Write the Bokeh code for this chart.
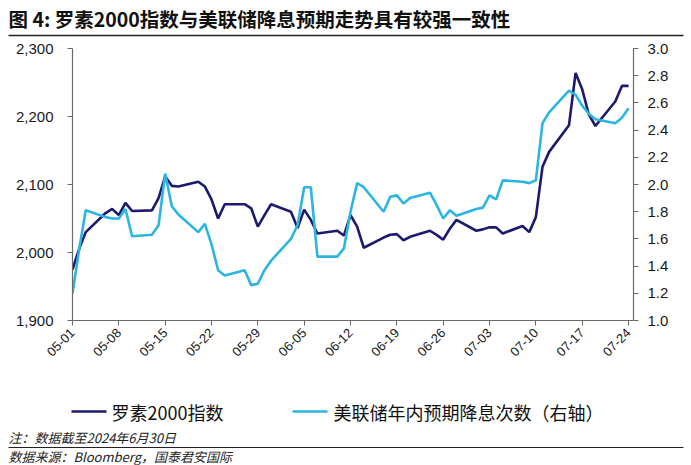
import math
import datetime as dt
from bokeh.plotting import figure
from bokeh.layouts import column
from bokeh.models import (LinearAxis, Range1d, FixedTicker, DatetimeTickFormatter,
                          NumeralTickFormatter, ColumnDataSource)
from bokeh.core.properties import value
from bokeh.embed import file_html
from bokeh.resources import INLINE

# ---------------- data ----------------
dates = [
    "2024-05-01", "2024-05-02", "2024-05-03", "2024-05-06", "2024-05-07", "2024-05-08",
    "2024-05-09", "2024-05-10", "2024-05-13", "2024-05-14", "2024-05-15", "2024-05-16",
    "2024-05-17", "2024-05-20", "2024-05-21", "2024-05-22", "2024-05-23", "2024-05-24",
    "2024-05-27", "2024-05-28", "2024-05-29", "2024-05-30", "2024-05-31",
    "2024-06-03", "2024-06-04", "2024-06-05", "2024-06-06", "2024-06-07", "2024-06-10",
    "2024-06-11", "2024-06-12", "2024-06-13", "2024-06-14", "2024-06-17", "2024-06-18",
    "2024-06-19", "2024-06-20", "2024-06-21", "2024-06-24", "2024-06-25", "2024-06-26",
    "2024-06-27", "2024-06-28",
    "2024-07-01", "2024-07-02", "2024-07-03", "2024-07-04", "2024-07-05", "2024-07-08",
    "2024-07-09", "2024-07-10", "2024-07-11", "2024-07-12", "2024-07-15", "2024-07-16",
    "2024-07-17", "2024-07-18", "2024-07-19", "2024-07-22", "2024-07-23", "2024-07-24",
]

russell2000 = [
    1975, 2005, 2030, 2058, 2064, 2055, 2073, 2061, 2062, 2080, 2112, 2098,
    2097, 2104, 2097, 2078, 2050, 2071, 2071, 2065, 2038, 2055, 2071,
    2060, 2036, 2063, 2048, 2028, 2032, 2025, 2055, 2038, 2007, 2022, 2026,
    2027, 2018, 2023, 2032, 2026, 2019, 2035, 2048,
    2032, 2034, 2037, 2037, 2028, 2039, 2030, 2052, 2126, 2148, 2187, 2264,
    2240, 2203, 2186, 2222, 2245, 2245,
]

fed_cuts = [
    1.20, 1.52, 1.81, 1.76, 1.75, 1.75, 1.82, 1.62, 1.63, 1.70, 2.08, 1.84,
    1.78, 1.65, 1.71, 1.56, 1.37, 1.33, 1.37, 1.26, 1.27, 1.37, 1.44,
    1.60, 1.70, 1.98, 1.98, 1.47, 1.47, 1.53, 1.80, 2.01, 1.98, 1.80, 1.91,
    1.92, 1.86, 1.90, 1.94, 1.85, 1.75, 1.81, 1.77,
    1.82, 1.83, 1.92, 1.89, 2.03, 2.02, 2.01, 2.03, 2.45, 2.53, 2.69, 2.66,
    2.58, 2.52, 2.48, 2.45, 2.49, 2.56,
]

x_tick_dates = ["2024-05-01", "2024-05-08", "2024-05-15", "2024-05-22", "2024-05-29",
                "2024-06-05", "2024-06-12", "2024-06-19", "2024-06-26", "2024-07-03",
                "2024-07-10", "2024-07-17", "2024-07-24"]

left_ticks = [1900, 2000, 2100, 2200, 2300]
right_ticks = [1.0, 1.2, 1.4, 1.6, 1.8, 2.0, 2.2, 2.4, 2.6, 2.8, 3.0]

title_text = "图 4:  罗素2000指数与美联储降息预期走势具有较强一致性"
series_names = ["罗素2000指数", "美联储年内预期降息次数（右轴）"]
note_text = "注：数据截至2024年6月30日"
source_text = "数据来源：Bloomberg，国泰君安国际"

# ---------------- styling ----------------
W = 691
CJK = "Noto Sans CJK SC"
LAT = "Liberation Sans"
DARK = "#1c1a6e"
CYAN = "#2cb5e3"
AXC = "#6b6b6b"


def to_dt(s):
    return dt.datetime.strptime(s, "%Y-%m-%d")


def to_ms(d):
    return (d - dt.datetime(1970, 1, 1)).total_seconds() * 1000.0


def blank_fig(h, y_top, y_bot):
    f = figure(width=W, height=h, output_backend="svg", toolbar_location=None,
               x_range=Range1d(0, W), y_range=Range1d(y_bot, y_top),
               x_axis_location=None, y_axis_location=None,
               min_border=0, min_border_left=0, min_border_right=0,
               min_border_top=0, min_border_bottom=0, frame_align=False)
    f.outline_line_color = None
    f.xgrid.visible = False
    f.ygrid.visible = False
    return f


# ---------------- header ----------------
HEAD_H = 40
head = blank_fig(HEAD_H, 0, HEAD_H)   # y grows downward (page px)
head.text(x=[8], y=[18], text=[title_text], text_font=value(CJK),
          text_font_style="bold", text_font_size=value("19.5px"),
          text_color="#111111", text_baseline="middle", text_align="left")
head.segment(x0=[8], y0=[35], x1=[683], y1=[35], line_color="#222222", line_width=1.4)

# ---------------- main chart ----------------
MAIN_TOP = HEAD_H
MAIN_H = 352
xs = [to_dt(s) for s in dates]
src = ColumnDataSource(dict(x=xs, r=russell2000, c=fed_cuts))

x_start = to_dt("2024-05-01")
x_end = to_dt("2024-07-24") + dt.timedelta(hours=18)

p = figure(width=W, height=MAIN_H, output_backend="svg", toolbar_location=None,
           x_axis_type="datetime",
           x_range=Range1d(x_start, x_end), y_range=Range1d(1900, 2300),
           min_border_left=72, min_border_right=W - 633,
           min_border_top=48 - MAIN_TOP, min_border_bottom=MAIN_TOP + MAIN_H - 320,
           frame_align=False)
p.extra_y_ranges = {"right": Range1d(1.0, 3.0)}
p.outline_line_color = None
p.xgrid.visible = False
p.ygrid.visible = False

p.line("x", "r", source=src, line_color=DARK, line_width=2.6)
p.line("x", "c", source=src, line_color=CYAN, line_width=2.6, y_range_name="right")

xa = p.xaxis[0]
xa.ticker = FixedTicker(ticks=[to_ms(to_dt(s)) for s in x_tick_dates])
xa.formatter = DatetimeTickFormatter(days="%m-%d", months="%m-%d", hours="%m-%d")
xa.major_label_orientation = math.pi / 4
ya = p.yaxis[0]
ya.ticker = FixedTicker(ticks=left_ticks)
ya.formatter = NumeralTickFormatter(format="0,0")
ra = LinearAxis(y_range_name="right", ticker=FixedTicker(ticks=right_ticks),
                formatter=NumeralTickFormatter(format="0.0"))
p.add_layout(ra, "right")

for ax in (xa, ya, ra):
    ax.axis_line_color = AXC
    ax.axis_line_width = 1.2
    ax.major_tick_line_color = AXC
    ax.major_tick_in = 0
    ax.major_tick_out = 5
    ax.minor_tick_line_color = None
    ax.major_label_text_font = LAT
    ax.major_label_text_color = "#1a1a1a"
xa.major_label_text_font_size = "13px"
ya.major_label_text_font_size = "15px"
ra.major_label_text_font_size = "15px"
ya.major_label_standoff = 14
ra.major_label_standoff = 9
xa.major_label_standoff = 5

# ---------------- footer (legend + notes) ----------------
FOOT_TOP = MAIN_TOP + MAIN_H
FOOT_H = 465 - FOOT_TOP
foot = blank_fig(FOOT_H, FOOT_TOP, 465)
LEG_Y = 411
foot.segment(x0=[71], y0=[LEG_Y], x1=[106], y1=[LEG_Y], line_color=DARK, line_width=2.6)
foot.segment(x0=[292], y0=[LEG_Y], x1=[327], y1=[LEG_Y], line_color=CYAN, line_width=2.6)
foot.text(x=[111, 333], y=[LEG_Y, LEG_Y], text=series_names, text_font=value(CJK),
          text_font_size=value("18px"), text_color="#111111",
          text_baseline="middle", text_align="left")
foot.text(x=[8], y=[437], text=[note_text], text_font=value(CJK),
          text_font_style="italic", text_font_size=value("13px"),
          text_color="#222222", text_baseline="middle", text_align="left")
foot.segment(x0=[8], y0=[447], x1=[683], y1=[447], line_color="#222222", line_width=1.0)
foot.text(x=[8], y=[456], text=[source_text], text_font=value(CJK),
          text_font_style="italic", text_font_size=value("13px"),
          text_color="#222222", text_baseline="middle", text_align="left")

layout = column(head, p, foot, spacing=0)
open("out.html", "w").write(file_html(layout, INLINE))
